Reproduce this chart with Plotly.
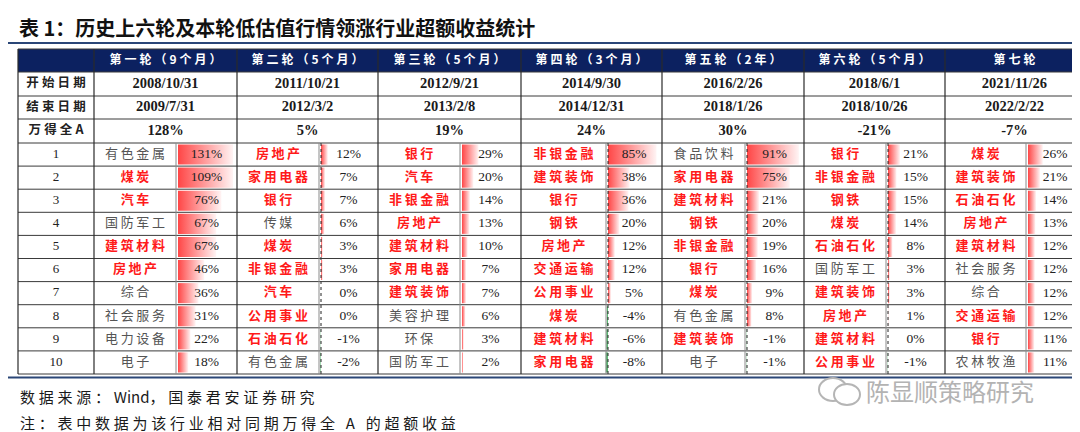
import plotly.graph_objects as go

# ---- data -------------------------------------------------------------
TITLE = "表 1：历史上六轮及本轮低估值行情领涨行业超额收益统计"
SOURCE = "数据来源：Wind，国泰君安证券研究"
NOTE = "注：表中数据为该行业相对同期万得全 A 的超额收益"
WATERMARK = "陈显顺策略研究"

ROUND_NAMES = ["第一轮（9个月）", "第二轮（5个月）", "第三轮（5个月）", "第四轮（3个月）",
               "第五轮（2年）", "第六轮（5个月）", "第七轮"]
ROW_LABELS = ["开始日期", "结束日期", "万得全A"]
START_DATES = ["2008/10/31", "2011/10/21", "2012/9/21", "2014/9/30", "2016/2/26", "2018/6/1", "2021/11/26"]
END_DATES = ["2009/7/31", "2012/3/2", "2013/2/8", "2014/12/31", "2018/1/26", "2018/10/26", "2022/2/22"]
WIND_A = [128, 5, 19, 24, 30, -21, -7]
RANKS = [1, 2, 3, 4, 5, 6, 7, 8, 9, 10]

R1_IND = ["有色金属", "煤炭", "汽车", "国防军工", "建筑材料", "房地产", "综合", "社会服务", "电力设备", "电子"]
R1_VAL = [131, 109, 76, 67, 67, 46, 36, 31, 22, 18]
R2_IND = ["房地产", "家用电器", "银行", "传媒", "煤炭", "非银金融", "汽车", "公用事业", "石油石化", "有色金属"]
R2_VAL = [12, 7, 7, 6, 3, 3, 0, 0, -1, -2]
R3_IND = ["银行", "汽车", "非银金融", "房地产", "建筑材料", "家用电器", "建筑装饰", "美容护理", "环保", "国防军工"]
R3_VAL = [29, 20, 14, 13, 10, 7, 7, 6, 3, 2]
R4_IND = ["非银金融", "建筑装饰", "银行", "钢铁", "房地产", "交通运输", "公用事业", "煤炭", "建筑材料", "家用电器"]
R4_VAL = [85, 38, 36, 20, 12, 12, 5, -4, -6, -8]
R5_IND = ["食品饮料", "家用电器", "建筑材料", "钢铁", "非银金融", "银行", "煤炭", "有色金属", "建筑装饰", "电子"]
R5_VAL = [91, 75, 21, 20, 19, 16, 9, 8, -1, -1]
R6_IND = ["银行", "非银金融", "钢铁", "煤炭", "石油石化", "国防军工", "建筑装饰", "房地产", "建筑材料", "公用事业"]
R6_VAL = [21, 15, 15, 14, 8, 3, 3, 1, 0, -1]
R7_IND = ["煤炭", "建筑装饰", "石油石化", "房地产", "建筑材料", "社会服务", "综合", "交通运输", "银行", "农林牧渔"]
R7_VAL = [26, 21, 14, 13, 12, 12, 12, 12, 11, 11]

# industries highlighted in red (low-valuation sectors)
LOW_VAL_INDUSTRIES = ["煤炭", "汽车", "建筑材料", "房地产", "家用电器", "银行", "非银金融",
                      "公用事业", "石油石化", "建筑装饰", "钢铁", "交通运输"]

INDUSTRIES = [R1_IND, R2_IND, R3_IND, R4_IND, R5_IND, R6_IND, R7_IND]
VALUES = [R1_VAL, R2_VAL, R3_VAL, R4_VAL, R5_VAL, R6_VAL, R7_VAL]

# ---- geometry (pixel space) -------------------------------------------
W, H = 1080, 432
TABLE_L, TABLE_R = 10, 1076
LABEL_R = 86
ROUND_EDGES = [86, 229, 370, 513, 654, 796, 937, 1076]
SPLITS = [168, 311, 452, 598, 737, 878, 1018]
TOP_EDGES = [41, 64, 88, 111, 135]
ROW_H = 23.1
ROW_EDGES = TOP_EDGES + [135 + ROW_H * k for k in range(1, 11)]
BAR_PX_PER_PCT = 0.57

NAVY = "#0c2160"
LINE_BLUE = "#2a4677"
RED = "#ff1a1a"
GRAY_TXT = "#555555"
CJK = "Noto Sans CJK SC"
SERIF = "Liberation Serif"


def spaced(s, gap="\u2009"):
    # letter-space CJK text; keep latin words and "，" tight
    out = s[0]
    for prev, ch in zip(s, s[1:]):
        if (prev.isalnum() and prev.isascii() and ch.isalnum() and ch.isascii()) or ch == "，":
            out += ch
        else:
            out += gap + ch
    return out


fig = go.Figure()
shapes = []

# header background
shapes.append(dict(type="rect", x0=TABLE_L, x1=TABLE_R, y0=ROW_EDGES[0], y1=ROW_EDGES[1],
                   fillcolor=NAVY, line_width=0, layer="below"))

# data bars
for r, vals in enumerate(VALUES):
    cell_l, cell_r = SPLITS[r], ROUND_EDGES[r + 1]
    axis_x = cell_l + 2
    has_neg = min(vals) < 0
    for i, v in enumerate(vals):
        y0 = ROW_EDGES[4 + i] + 1.5
        y1 = ROW_EDGES[5 + i] - 1.5
        if v > 0:
            x0 = axis_x
            x1 = axis_x + min(v * BAR_PX_PER_PCT, cell_r - cell_l - 6)
            fig.add_trace(go.Scatter(
                x=[x0, x1, x1, x0, x0], y=[y0, y0, y1, y1, y0],
                mode="lines", fill="toself", line=dict(width=0),
                fillgradient=dict(type="horizontal", start=x0, stop=x1,
                                  colorscale=[[0, "rgb(255,70,70)"], [1, "rgb(255,244,244)"]]),
                hoverinfo="skip", showlegend=False))
        elif v < 0:
            x1 = axis_x
            x0 = axis_x + v * 0.28
            fig.add_trace(go.Scatter(
                x=[x0, x1, x1, x0, x0], y=[y0, y0, y1, y1, y0],
                mode="lines", fill="toself", line=dict(width=0),
                fillcolor="rgb(90,185,115)", hoverinfo="skip", showlegend=False))
    if has_neg:
        shapes.append(dict(type="line", x0=axis_x, x1=axis_x, y0=ROW_EDGES[4], y1=ROW_EDGES[-1],
                           line=dict(color="#222222", width=1, dash="dot")))

# grid lines
for k, y in enumerate(ROW_EDGES):
    shapes.append(dict(type="line", x0=TABLE_L, x1=TABLE_R, y0=y, y1=y,
                       line=dict(color="#3a3a3a", width=1.2 if k in (0, len(ROW_EDGES) - 1) else 1)))
for x in [TABLE_L] + ROUND_EDGES:
    shapes.append(dict(type="line", x0=x, x1=x, y0=ROW_EDGES[0], y1=ROW_EDGES[-1],
                       line=dict(color="#2a2a2a", width=1.2)))
for x in SPLITS:
    shapes.append(dict(type="line", x0=x, x1=x, y0=ROW_EDGES[4], y1=ROW_EDGES[-1],
                       line=dict(color="#8a8a8a", width=1)))

# title and rules
shapes.append(dict(type="line", x0=0, x1=W, y0=35, y1=35, line=dict(color=LINE_BLUE, width=2)))
shapes.append(dict(type="line", x0=0, x1=W, y0=369.5, y1=369.5, line=dict(color=LINE_BLUE, width=2)))


def mid(a, b):
    return (a + b) / 2


def row_mid(k):
    return mid(ROW_EDGES[k], ROW_EDGES[k + 1])


def add_text(xs, ys, texts, family, size, color, weight="normal"):
    fig.add_trace(go.Scatter(
        x=xs, y=ys, text=texts, mode="text", textposition="middle center",
        textfont=dict(family=family, size=size, color=color, weight=weight),
        hoverinfo="skip", showlegend=False))


round_centers = [mid(ROUND_EDGES[r], ROUND_EDGES[r + 1]) for r in range(7)]

# header row
add_text(round_centers, [row_mid(0)] * 7, [spaced(n, "\u2005") for n in ROUND_NAMES], CJK, 12, "white", "bold")

# left label column
add_text([mid(TABLE_L, LABEL_R)] * 3, [row_mid(k) for k in (1, 2, 3)],
         [spaced(s, "\u2005") for s in ROW_LABELS], CJK, 12.5, "#222222", "bold")
add_text([mid(TABLE_L, LABEL_R)] * 10, [row_mid(4 + i) for i in range(10)],
         [str(n) for n in RANKS], SERIF, 13, "#222222")

# dates and market return
add_text(round_centers, [row_mid(1)] * 7, START_DATES, SERIF, 14.5, "#1a1a1a", "bold")
add_text(round_centers, [row_mid(2)] * 7, END_DATES, SERIF, 14.5, "#1a1a1a", "bold")
add_text(round_centers, [row_mid(3)] * 7, [f"{v}%" for v in WIND_A], SERIF, 14.5, "#1a1a1a", "bold")

# industries and excess returns
red_x, red_y, red_t, gray_x, gray_y, gray_t = [], [], [], [], [], []
val_x, val_y, val_t = [], [], []
for r in range(7):
    name_c = mid(ROUND_EDGES[r], SPLITS[r])
    val_c = mid(SPLITS[r], ROUND_EDGES[r + 1])
    for i, (ind, v) in enumerate(zip(INDUSTRIES[r], VALUES[r])):
        y = row_mid(4 + i)
        if ind in LOW_VAL_INDUSTRIES:
            red_x.append(name_c); red_y.append(y); red_t.append(spaced(ind))
        else:
            gray_x.append(name_c); gray_y.append(y); gray_t.append(spaced(ind))
        val_x.append(val_c); val_y.append(y); val_t.append(f"{v}%")

add_text(gray_x, gray_y, gray_t, CJK, 13, GRAY_TXT)
add_text(red_x, red_y, red_t, CJK, 13, RED, "bold")
add_text(val_x, val_y, val_t, SERIF, 13.5, "#222222")

# watermark icon (two speech bubbles)
shapes.append(dict(type="circle", x0=811, x1=839, y0=370, y1=393,
                   line=dict(color="#b5b5b5", width=2)))
shapes.append(dict(type="circle", x0=826, x1=852, y0=376, y1=397,
                   fillcolor="white", line=dict(color="#b5b5b5", width=2)))

annotations = [
    dict(text=TITLE, x=9, y=19, xanchor="left", yanchor="middle", showarrow=False,
         font=dict(family=CJK, size=20, color="#111111", weight="bold")),
    dict(text=spaced(SOURCE, "\u2005"), x=10, y=388, xanchor="left", yanchor="middle",
         showarrow=False, font=dict(family=CJK, size=15, color="#1a1a1a")),
    dict(text=spaced(NOTE, "\u2005"), x=10, y=414, xanchor="left", yanchor="middle",
         showarrow=False, font=dict(family=CJK, size=15, color="#1a1a1a")),
    dict(text=WATERMARK, x=856, y=382, xanchor="left", yanchor="middle", showarrow=False,
         font=dict(family=CJK, size=24, color="#b3b3b3")),
]
for a in annotations:
    a.update(xref="x", yref="y")

fig.update_layout(
    width=W, height=H,
    margin=dict(l=0, r=0, t=0, b=0),
    paper_bgcolor="white", plot_bgcolor="white",
    xaxis=dict(range=[0, W], visible=False, fixedrange=True),
    yaxis=dict(range=[H, 0], visible=False, fixedrange=True),
    shapes=shapes,
    annotations=annotations,
    showlegend=False,
)

fig.write_html("out.html")
